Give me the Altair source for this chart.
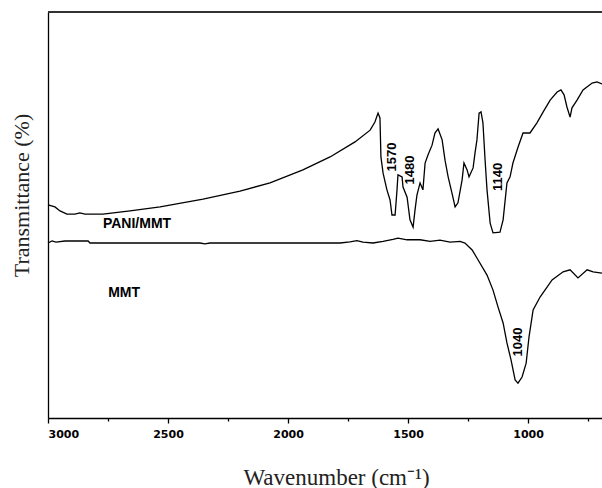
import altair as alt
import pandas as pd

# PANI/MMT spectrum (wavenumber cm-1, transmittance a.u.)
pani_wn = [3000, 2971, 2950, 2921, 2888, 2867, 2846, 2771, 2658, 2533, 2354, 2200, 2075,
           1938, 1825, 1721, 1658, 1638, 1625, 1617, 1613, 1604, 1588, 1575, 1567, 1554,
           1546, 1542, 1525, 1521, 1504, 1492, 1479, 1471, 1463, 1450, 1438, 1429, 1417,
           1400, 1388, 1375, 1358, 1346, 1333, 1317, 1304, 1292, 1275, 1267, 1254, 1246,
           1229, 1221, 1213, 1204, 1196, 1188, 1179, 1171, 1158, 1146, 1117, 1104, 1088,
           1075, 1063, 1042, 1021, 992, 963, 937, 908, 879, 863, 850, 838, 825, 817, 796,
           771, 733, 713, 692]
pani_t = [52.5, 52.0, 51.0, 50.2, 50.2, 50.5, 50.2, 50.2, 51.0, 52.0, 53.9, 55.9, 57.9,
          61.1, 64.3, 68.0, 70.9, 72.9, 75.1, 73.9, 64.3, 60.3, 56.2, 53.7, 50.0, 50.0,
          56.2, 59.9, 59.4, 56.9, 54.4, 48.8, 47.0, 51.2, 54.9, 57.9, 56.2, 62.8, 64.8,
          67.2, 70.2, 71.2, 68.5, 63.5, 59.4, 55.4, 52.0, 53.0, 58.6, 62.8, 61.1, 59.4,
          61.6, 65.3, 68.5, 75.1, 75.4, 72.7, 63.5, 56.2, 48.0, 45.6, 45.8, 48.8, 57.9,
          59.4, 62.8, 66.7, 70.2, 70.2, 72.7, 75.4, 78.3, 80.3, 80.8, 79.6, 76.6, 74.1,
          76.4, 78.3, 80.8, 82.5, 82.8, 82.3]

# MMT spectrum
mmt_wn = [3000, 2983, 2967, 2929, 2833, 2825, 2367, 2346, 2325, 1825, 1783, 1742, 1713,
          1688, 1646, 1604, 1563, 1542, 1504, 1450, 1408, 1367, 1325, 1283, 1263, 1233,
          1213, 1171, 1146, 1125, 1104, 1088, 1071, 1054, 1042, 1025, 1008, 996, 979,
          950, 900, 854, 825, 792, 754, 729, 692]
mmt_t = [43.1, 43.6, 43.3, 43.6, 43.6, 43.1, 43.1, 42.9, 43.1, 43.1, 43.1, 43.4, 43.7,
         43.3, 43.1, 43.5, 44.0, 44.3, 43.9, 43.9, 43.5, 43.8, 43.3, 43.5, 43.1, 41.4,
         39.4, 35.2, 31.5, 27.3, 23.4, 18.5, 14.3, 9.4, 8.6, 10.1, 13.5, 20.0, 26.6,
         29.8, 34.0, 36.0, 36.5, 34.5, 36.5, 36.0, 35.7]

# annotations
peak_text = ["1570", "1480", "1140", "1040"]
peak_wn = [1567, 1490, 1125, 1042]
peak_t = [64.3, 61.1, 59.4, 18.7]

name_text = ["PANI/MMT", "MMT"]
name_wn = [2629, 2683]
name_t = [47.8, 30.8]

tick_values = [3000, 2750, 2500, 2250, 2000, 1750, 1500, 1250, 1000, 750]

spec = pd.concat([
    pd.DataFrame({"wn": pani_wn, "t": pani_t, "series": "PANI/MMT"}),
    pd.DataFrame({"wn": mmt_wn, "t": mmt_t, "series": "MMT"}),
])
peaks = pd.DataFrame({"wn": peak_wn, "t": peak_t, "label": peak_text})
names = pd.DataFrame({"wn": name_wn, "t": name_t, "label": name_text})

xscale = alt.Scale(domain=[692, 3000], reverse=True, nice=False, zero=False)
yscale = alt.Scale(domain=[0, 100], nice=False, zero=False)

xaxis = alt.Axis(
    values=tick_values,
    format="d",
    labelExpr="datum.value % 500 === 0 ? datum.label : ''",
    tickSize={"condition": {"test": "datum.value % 500 === 0", "value": 5}, "value": 3},
    tickColor="black", tickWidth=1.3,
    domainColor="black", domainWidth=1.3,
    labelFont="DejaVu Sans", labelFontWeight="bold", labelFontSize=11,
    labelColor="black", labelPadding=5,
    grid=False,
    title="Wavenumber (cm⁻¹)",
    titleFont="Liberation Serif", titleFontSize=23, titleFontWeight="normal",
    titleColor="#222222",
    titleX=288, titleY=66, titleAlign="center", titleBaseline="alphabetic",
)
yaxis = alt.Axis(
    ticks=False, labels=False, grid=False,
    domainColor="black", domainWidth=1.3,
    title="Transmittance (%)",
    titleFont="Liberation Serif", titleFontSize=22, titleFontWeight="normal",
    titleColor="#222222",
    titleAngle=270, titleX=-20, titleY=183, titleAlign="center",
    titleBaseline="alphabetic",
)

lines = alt.Chart(spec).mark_line(color="black", strokeWidth=1.3).encode(
    x=alt.X("wn:Q", scale=xscale, axis=xaxis),
    y=alt.Y("t:Q", scale=yscale, axis=yaxis),
    detail="series:N",
    order=alt.Order("wn:Q", sort="descending"),
)

top_rule = alt.Chart(spec).mark_rule(color="#333333", strokeWidth=1.5).encode(
    x=alt.value(0), x2=alt.value(554), y=alt.value(0)
)

peak_labels = alt.Chart(peaks).mark_text(
    angle=270, font="Liberation Sans", fontWeight="bold", fontSize=13,
    color="black", baseline="middle", align="center",
).encode(x=alt.X("wn:Q", scale=xscale), y=alt.Y("t:Q", scale=yscale), text="label:N")

name_labels = alt.Chart(names).mark_text(
    font="Liberation Sans", fontWeight="bold", fontSize=14,
    color="black", baseline="middle", align="center",
).encode(x=alt.X("wn:Q", scale=xscale), y=alt.Y("t:Q", scale=yscale), text="label:N")

chart = alt.layer(lines, top_rule, peak_labels, name_labels).properties(
    width=554, height=406,
    autosize=alt.AutoSizeParams(type="none"),
    padding={"left": 48, "top": 12, "right": 0, "bottom": 70},
    background="white",
).configure_view(stroke=None)

chart.save("out.html", embed_options={"renderer": "svg", "actions": False})
